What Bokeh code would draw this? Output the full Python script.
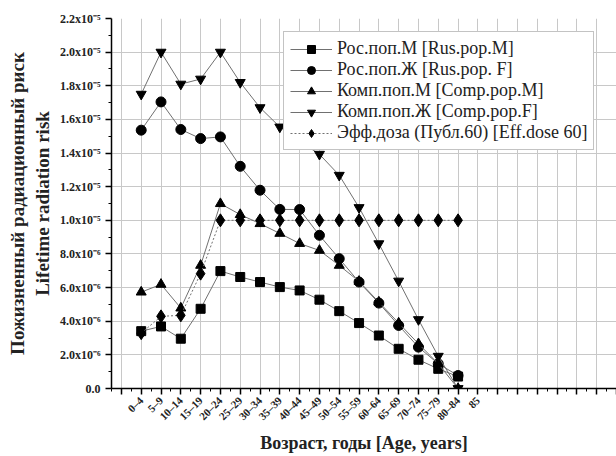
import math
from bokeh.plotting import figure
from bokeh.models import Range1d, FixedTicker
from bokeh.embed import file_html
from bokeh.resources import INLINE

# Age groups (x categories)
age_groups = ["0–4", "5–9", "10–14", "15–19", "20–24", "25–29", "30–34", "35–39",
              "40–44", "45–49", "50–54", "55–59", "60–64", "65–69", "70–74",
              "75–79", "80–84", "85"]

# Series values (lifetime radiation risk)
rus_m = [3.41e-6, 3.69e-6, 2.96e-6, 4.74e-6, 6.98e-6, 6.63e-6, 6.33e-6, 6.03e-6, 5.83e-6,
         5.28e-6, 4.60e-6, 3.89e-6, 3.15e-6, 2.36e-6, 1.71e-6, 1.17e-6, 0.71e-6]
rus_f = [1.536e-5, 1.704e-5, 1.54e-5, 1.486e-5, 1.496e-5, 1.321e-5, 1.179e-5, 1.065e-5, 1.064e-5,
         9.11e-6, 7.72e-6, 6.33e-6, 5.08e-6, 3.75e-6, 2.46e-6, 1.47e-6, 0.77e-6]
comp_m = [5.73e-6, 6.19e-6, 4.78e-6, 7.32e-6, 1.099e-5, 1.034e-5, 9.80e-6, 9.22e-6, 8.62e-6,
          8.21e-6, 7.32e-6, 6.37e-6, 5.14e-6, 3.89e-6, 2.66e-6, 1.47e-6, 0.0]
comp_f = [1.75e-5, 2.0e-5, 1.81e-5, 1.84e-5, 2.0e-5, 1.82e-5, 1.67e-5, 1.555e-5, 1.47e-5,
          1.393e-5, 1.268e-5, 1.076e-5, 8.61e-6, 6.39e-6, 4.10e-6, 1.92e-6, 0.0]
eff_dose = [3.29e-6, 4.29e-6, 4.35e-6, 6.83e-6, 1.0e-5, 1.0e-5, 1.0e-5, 1.0e-5, 1.0e-5,
            1.0e-5, 1.0e-5, 1.0e-5, 1.0e-5, 1.0e-5, 1.0e-5, 1.0e-5, 1.0e-5]

# y tick values (in units of 1e-6) and labels
y_ticks = [0, 2, 4, 6, 8, 10, 12, 14, 16, 18, 20, 22]
y_tick_labels = ["0.0", "2.0x10⁻⁶", "4.0x10⁻⁶", "6.0x10⁻⁶", "8.0x10⁻⁶", "1.0x10⁻⁵",
                 "1.2x10⁻⁵", "1.4x10⁻⁵", "1.6x10⁻⁵", "1.8x10⁻⁵", "2.0x10⁻⁵", "2.2x10⁻⁵"]

legend_labels = ["Рос.поп.М [Rus.pop.M]", "Рос.поп.Ж [Rus.pop. F]",
                 "Комп.поп.М [Comp.pop.M]", "Комп.поп.Ж [Comp.pop.F]",
                 "Эфф.доза (Публ.60) [Eff.dose 60]"]

SERIF = "Liberation Serif"
SCALE = 1e6

p = figure(width=616, height=456, output_backend="svg", toolbar_location=None,
           x_range=Range1d(-1.5, 24.0), y_range=Range1d(0, 22),
           min_border_left=111, min_border_top=18, min_border_bottom=68, min_border_right=0)
p.outline_line_color = None
p.background_fill_color = "white"

xs = list(range(len(rus_m)))

def series(vals, marker, label, size, dash="solid"):
    ys = [v * SCALE for v in vals]
    p.line(xs, ys, line_color="#707070", line_width=1, line_dash=dash, legend_label=label)
    p.scatter(xs, ys, marker=marker, size=size, fill_color="black",
              line_color="black", legend_label=label)

series(rus_m, "square", legend_labels[0], 9)
series(rus_f, "circle", legend_labels[1], 10)
series(comp_m, "triangle", legend_labels[2], 10)
series(comp_f, "inverted_triangle", legend_labels[3], 10)
series(eff_dose, "diamond", legend_labels[4], 13, dash="2 2")

# x axis
all_x = list(range(-1, 25))
p.xaxis.ticker = FixedTicker(ticks=all_x, minor_ticks=[x + 0.5 for x in range(-2, 25)])
overrides = {x: "" for x in all_x}
for i, g in enumerate(age_groups):
    overrides[i] = g
p.xaxis.major_label_overrides = overrides
p.xaxis.major_label_orientation = math.pi / 4
p.xaxis.major_label_text_font = SERIF
p.xaxis.major_label_text_font_style = "bold"
p.xaxis.major_label_text_font_size = "11px"
p.xaxis.major_label_standoff = 4
p.xaxis.axis_label = "Возраст, годы [Age, years]"
p.xaxis.axis_label_text_font = SERIF
p.xaxis.axis_label_text_font_style = "bold"
p.xaxis.axis_label_text_font_size = "18px"
p.xaxis.axis_label_standoff = 4
p.xgrid.ticker = FixedTicker(ticks=all_x)

# y axis
p.yaxis.ticker = FixedTicker(ticks=y_ticks, minor_ticks=list(range(1, 22, 2)))
p.yaxis.major_label_overrides = {t: l for t, l in zip(y_ticks, y_tick_labels)}
p.yaxis.major_label_text_font = SERIF
p.yaxis.major_label_text_font_style = "bold"
p.yaxis.major_label_text_font_size = "12px"
p.yaxis.axis_label = "Пожизненный радиационный риск\nLifetime radiation risk"
p.yaxis.axis_label_text_font = SERIF
p.yaxis.axis_label_text_font_style = "bold"
p.yaxis.axis_label_text_font_size = "19px"
p.yaxis.axis_label_standoff = 4

for ax in (p.xaxis, p.yaxis):
    ax.axis_line_color = "black"
    ax.axis_line_width = 1.5
    ax.major_tick_line_color = "black"
    ax.major_tick_line_width = 1.5
    ax.minor_tick_line_color = "black"
    ax.major_tick_out = 6
    ax.major_tick_in = 0
    ax.minor_tick_out = 3
    ax.minor_tick_in = 0
    ax.major_label_text_color = "#222222"
    ax.axis_label_text_color = "#222222"

for g in (p.xgrid, p.ygrid):
    g.grid_line_color = "#c8c8c8"
    g.grid_line_width = 1

# legend
lg = p.legend[0]
lg.location = (172, 238)
lg.border_line_color = "#888888"
lg.border_line_width = 1
lg.background_fill_color = "white"
lg.background_fill_alpha = 1.0
lg.label_text_font = SERIF
lg.label_text_font_size = "18px"
lg.label_text_color = "#222222"
lg.glyph_width = 42
lg.glyph_height = 20
lg.label_height = 20
lg.spacing = 0
lg.padding = 6
lg.margin = 0
lg.label_standoff = 5

open("out.html", "w").write(file_html(p, INLINE))
